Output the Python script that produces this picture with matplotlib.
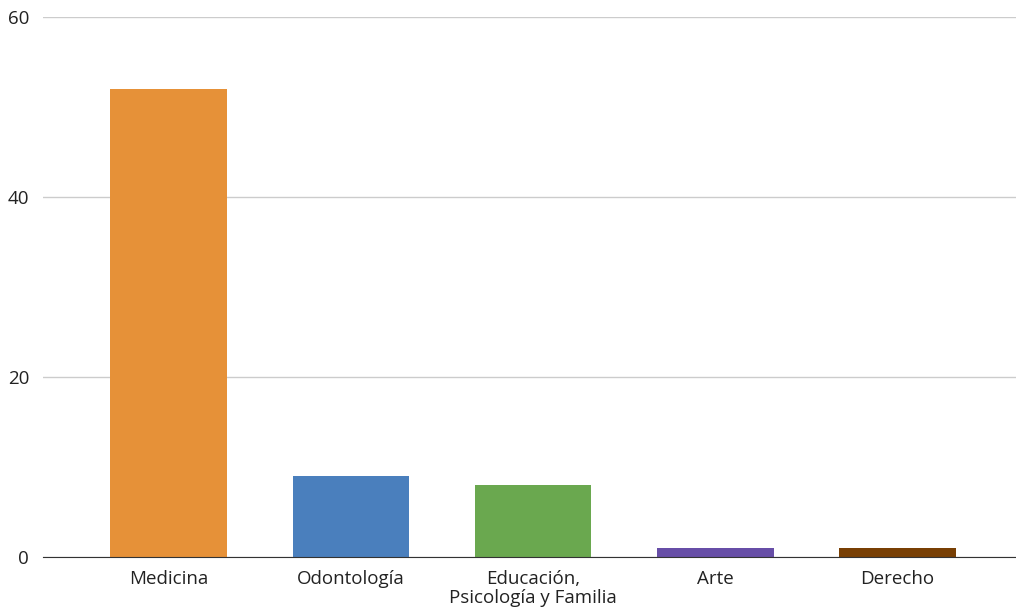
import matplotlib
matplotlib.use("Agg")
import matplotlib.pyplot as plt

categories = ["Medicina", "Odontología", "Educación,\nPsicología y Familia", "Arte", "Derecho"]
values = [52, 9, 8, 1, 1]
colors = ["#e69138", "#4a7fbd", "#6aa84f", "#674ea7", "#783f04"]
y_ticks = [0, 20, 40, 60]

plt.rcParams["font.family"] = ["Open Sans", "DejaVu Sans"]

fig = plt.figure(figsize=(10.16, 6.15), dpi=100)
ax = fig.add_axes([43 / 1016, 1 - 557 / 615, 1 - 43 / 1016, (557 - 17) / 615])

x = range(len(categories))
ax.bar(x, values, width=0.64, color=colors, zorder=3)

ax.set_xlim(-0.69, 4.65)
ax.set_ylim(0, 60)
ax.set_yticks(y_ticks)
ax.set_xticks(list(x))
ax.set_xticklabels(categories, fontsize=13.5, color="#222222", linespacing=1.1)
ax.tick_params(axis="y", length=0, pad=10, labelsize=13.5, labelcolor="#222222")
ax.tick_params(axis="x", length=0, pad=9)

ax.grid(axis="y", color="#cccccc", linewidth=1, zorder=0)
for s in ["left", "right", "top"]:
    ax.spines[s].set_visible(False)
ax.spines["bottom"].set_color("#333333")
ax.spines["bottom"].set_zorder(4)

fig.savefig("out.png", dpi=100)
